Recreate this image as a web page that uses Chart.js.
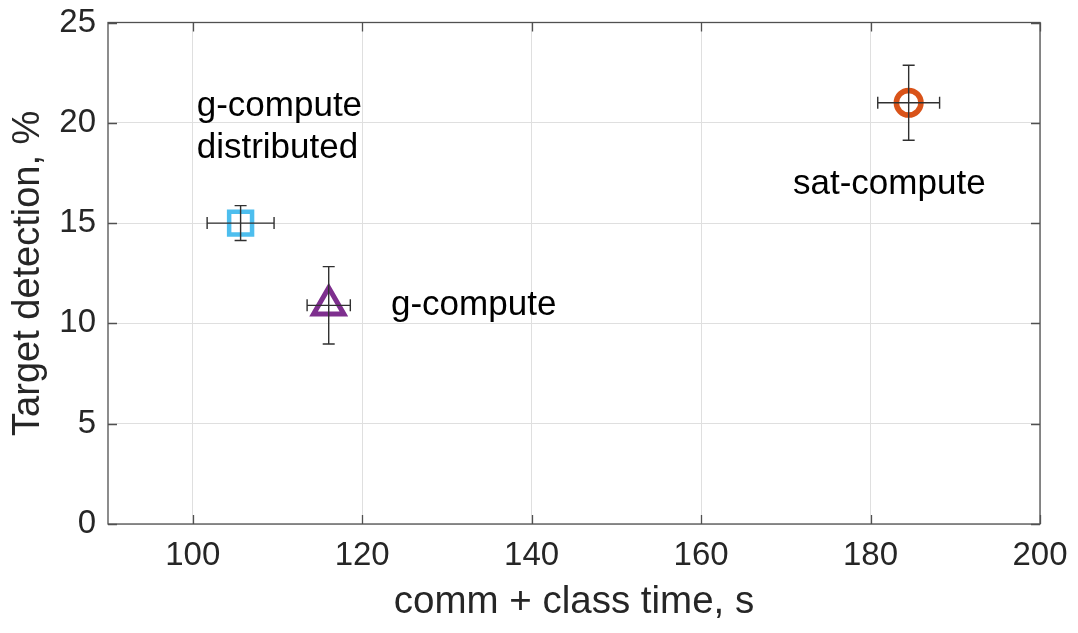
<!DOCTYPE html>
<html>
<head>
<meta charset="utf-8">
<script src="https://cdn.jsdelivr.net/npm/chart.js@4.4.1/dist/chart.umd.min.js"></script>
<style>
  html, body { margin: 0; padding: 0; background: #ffffff; }
  #wrap { width: 1078px; height: 633px; }
</style>
</head>
<body>
<div id="wrap"><canvas id="c" width="1078" height="633"></canvas></div>
<script>
// Mean communication + classification time (s) and target detection (%) per scheme
const seriesNames = ['g-compute distributed', 'g-compute', 'sat-compute'];
const timeValues = [105.65, 116.05, 184.5];
const detectionValues = [15.0, 10.9, 21.0];
// Half-widths of the error bars
const timeErr = [3.95, 2.55, 3.65];
const detectionErr = [0.87, 1.93, 1.87];

const xTicks = [100, 120, 140, 160, 180, 200];
const yTicks = [0, 5, 10, 15, 20, 25];

// Text annotations, anchored in data units (left edge, vertical middle)
const labelLines = [['g-compute', 'distributed'], ['g-compute'], ['sat-compute']];
const labelX = [100.47, 123.4, 170.85];
const labelY = [19.75, 10.9, 16.95];

const markerStyles = ['rect', 'triangle', 'circle'];
const markerColors = ['#4DBEEE', '#7E2F8E', '#D95319'];
const markerRadius = [16.2, 17.5, 12.3];
const markerWidth = [4.5, 5, 5.5];

const FONT = '"Liberation Sans", Arial, Helvetica, sans-serif';
const AXIS_COLOR = '#505050';

const overlay = {
  id: 'overlay',
  afterDatasetsDraw(chart) {
    const { ctx, chartArea: a, scales: { x, y } } = chart;
    ctx.save();

    // Error bars with caps
    ctx.strokeStyle = '#303030';
    ctx.lineWidth = 1.4;
    const cap = 6;
    for (let i = 0; i < timeValues.length; i++) {
      const px = x.getPixelForValue(timeValues[i]);
      const py = y.getPixelForValue(detectionValues[i]);
      const x0 = x.getPixelForValue(timeValues[i] - timeErr[i]);
      const x1 = x.getPixelForValue(timeValues[i] + timeErr[i]);
      const y0 = y.getPixelForValue(detectionValues[i] - detectionErr[i]);
      const y1 = y.getPixelForValue(detectionValues[i] + detectionErr[i]);
      ctx.beginPath();
      ctx.moveTo(x0, py); ctx.lineTo(x1, py);
      ctx.moveTo(x0, py - cap); ctx.lineTo(x0, py + cap);
      ctx.moveTo(x1, py - cap); ctx.lineTo(x1, py + cap);
      ctx.moveTo(px, y0); ctx.lineTo(px, y1);
      ctx.moveTo(px - cap, y0); ctx.lineTo(px + cap, y0);
      ctx.moveTo(px - cap, y1); ctx.lineTo(px + cap, y1);
      ctx.stroke();
    }

    // Annotations
    ctx.fillStyle = '#000000';
    ctx.font = '35px ' + FONT;
    ctx.textAlign = 'left';
    ctx.textBaseline = 'middle';
    const lh = 42;
    for (let i = 0; i < labelLines.length; i++) {
      const lines = labelLines[i];
      const lx = x.getPixelForValue(labelX[i]);
      const cy = y.getPixelForValue(labelY[i]);
      const n = lines.length;
      lines.forEach((t, j) => ctx.fillText(t, lx, cy + (j - (n - 1) / 2) * lh));
    }

    // Axes box with inward tick marks on all sides
    ctx.strokeStyle = AXIS_COLOR;
    ctx.lineWidth = 1.3;
    const tl = 9;
    ctx.beginPath();
    xTicks.forEach(v => {
      const p = Math.round(x.getPixelForValue(v)) + 0.5;
      ctx.moveTo(p, a.bottom); ctx.lineTo(p, a.bottom - tl);
      ctx.moveTo(p, a.top); ctx.lineTo(p, a.top + tl);
    });
    yTicks.forEach(v => {
      const p = Math.round(y.getPixelForValue(v)) + 0.5;
      ctx.moveTo(a.left, p); ctx.lineTo(a.left + tl, p);
      ctx.moveTo(a.right, p); ctx.lineTo(a.right - tl, p);
    });
    ctx.stroke();
    ctx.strokeRect(a.left, a.top, a.right - a.left, a.bottom - a.top);

    ctx.restore();
  }
};

const datasets = seriesNames.map((name, i) => ({
  label: name,
  data: [{ x: timeValues[i], y: detectionValues[i] }],
  pointStyle: markerStyles[i],
  pointRadius: markerRadius[i],
  pointHoverRadius: markerRadius[i],
  pointBorderWidth: markerWidth[i],
  pointHoverBorderWidth: markerWidth[i],
  borderColor: markerColors[i],
  backgroundColor: 'rgba(0,0,0,0)',
  showLine: false,
  clip: false
}));

new Chart(document.getElementById('c'), {
  type: 'scatter',
  data: { datasets },
  plugins: [overlay],
  options: {
    responsive: false,
    animation: false,
    devicePixelRatio: 1,
    events: [],
    layout: { padding: { left: 0, top: 20, right: 38, bottom: 0 } },
    plugins: { legend: { display: false }, tooltip: { enabled: false } },
    scales: {
      x: {
        type: 'linear',
        min: 90,
        max: 200,
        afterBuildTicks: s => { s.ticks = xTicks.map(v => ({ value: v })); },
        afterFit: s => { s.height = 109; s.paddingLeft = 0; s.paddingRight = 0; },
        grid: { color: '#dfdfdf', lineWidth: 1, drawTicks: false },
        border: { display: false },
        ticks: {
          padding: 12,
          color: '#262626',
          font: { family: FONT, size: 33 },
          maxRotation: 0,
          autoSkip: false
        },
        title: {
          display: true,
          text: 'comm + class time, s',
          color: '#262626',
          font: { family: FONT, size: 38.5, lineHeight: 1.2 },
          padding: { top: 0, bottom: 8 }
        }
      },
      y: {
        type: 'linear',
        min: 0,
        max: 25,
        afterBuildTicks: s => { s.ticks = yTicks.map(v => ({ value: v })); },
        afterFit: s => { s.width = 108; s.paddingTop = 0; s.paddingBottom = 0; },
        grid: { color: '#dfdfdf', lineWidth: 1, drawTicks: false },
        border: { display: false },
        ticks: {
          padding: 12,
          color: '#262626',
          font: { family: FONT, size: 33 },
          autoSkip: false
        },
        title: {
          display: true,
          text: 'Target detection, %',
          color: '#262626',
          font: { family: FONT, size: 38, lineHeight: 1.2 },
          padding: { top: 6, bottom: 0 }
        }
      }
    }
  }
});
</script>
</body>
</html>
